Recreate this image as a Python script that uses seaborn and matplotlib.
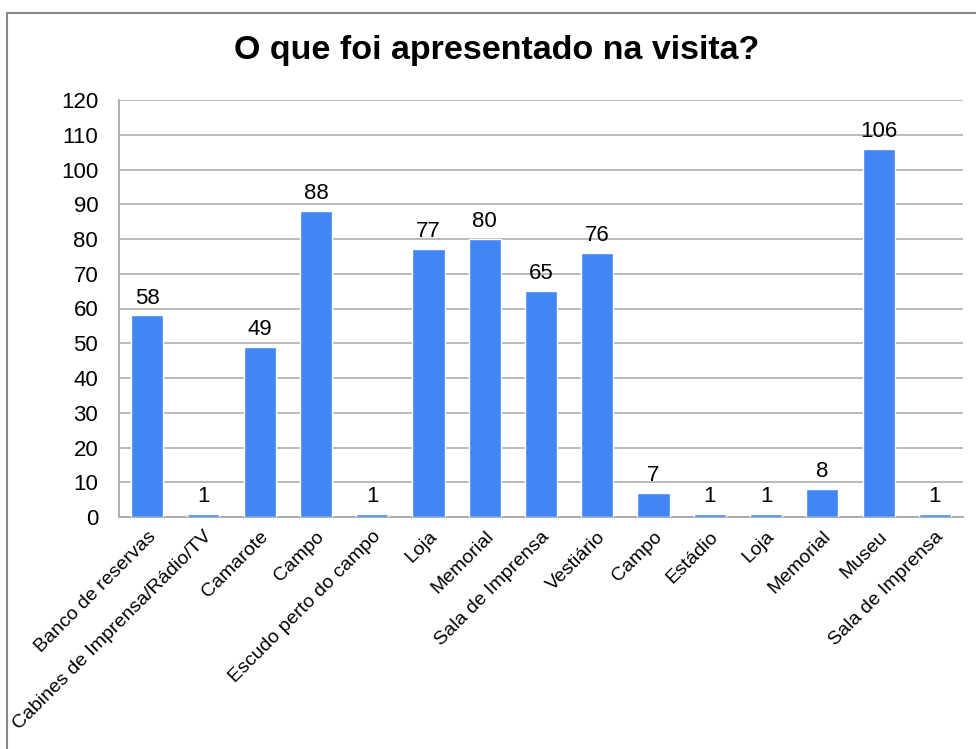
import matplotlib
matplotlib.use("Agg")
import matplotlib.pyplot as plt
import seaborn as sns
import pandas as pd
from matplotlib.patches import Rectangle

categories = ["Banco de reservas", "Cabines de Imprensa/Rádio/TV", "Camarote", "Campo",
              "Escudo perto do campo", "Loja", "Memorial", "Sala de Imprensa", "Vestiário",
              "Campo", "Estádio", "Loja", "Memorial", "Museu", "Sala de Imprensa"]
values = [58, 1, 49, 88, 1, 77, 80, 65, 76, 7, 1, 1, 8, 106, 1]
yticks = list(range(0, 121, 10))
title = "O que foi apresentado na visita?"

sns.set_theme(style="white")
plt.rcParams['font.family'] = ['Liberation Sans', 'DejaVu Sans']

df = pd.DataFrame({"pos": [str(i) for i in range(len(values))], "value": values})

fig = plt.figure(figsize=(9.76, 7.49), dpi=100)
ax = fig.add_axes([119/976, 1-517/749, (963-119)/976, (517-100)/749])

sns.barplot(data=df, x="pos", y="value", color="#4285F4", saturation=1, width=0.57, ax=ax, zorder=3)

ax.set_ylim(0, 120)
ax.set_yticks(yticks)
ax.set_yticklabels([str(t) for t in yticks], fontsize=16, color="black")
ax.set_xticks(range(len(categories)))
ax.set_xticklabels(categories, rotation=45, ha="right", rotation_mode="anchor", fontsize=14, color="black")
ax.set_xlim(-0.5, len(categories) - 0.5)
ax.set_xlabel("")
ax.set_ylabel("")
ax.yaxis.grid(True, color="#B4B4B4", linewidth=1.3, zorder=0)
ax.xaxis.grid(False)
for s in ["top", "right"]:
    ax.spines[s].set_visible(False)
for s in ["left", "bottom"]:
    ax.spines[s].set_color("#A8A8A8")
    ax.spines[s].set_linewidth(1.3)
ax.tick_params(axis="y", length=0, pad=15)
ax.tick_params(axis="x", length=0, pad=8)

for p, v in zip(ax.patches, values):
    ax.annotate(str(v), (p.get_x() + p.get_width() / 2, p.get_height()),
                xytext=(0, 5), textcoords="offset points", ha="center", va="bottom",
                fontsize=16, color="black")

fig.text(497/976, 1 - 51/749, title, ha="center", va="center", fontsize=24.5, fontweight="bold", color="black")

fig.patches.append(Rectangle((7/976, -0.1), 1.2, 1 - 13/749 + 0.1, transform=fig.transFigure,
                             fill=False, edgecolor="#888888", linewidth=1.5, figure=fig))

fig.savefig("out.png", dpi=100)
